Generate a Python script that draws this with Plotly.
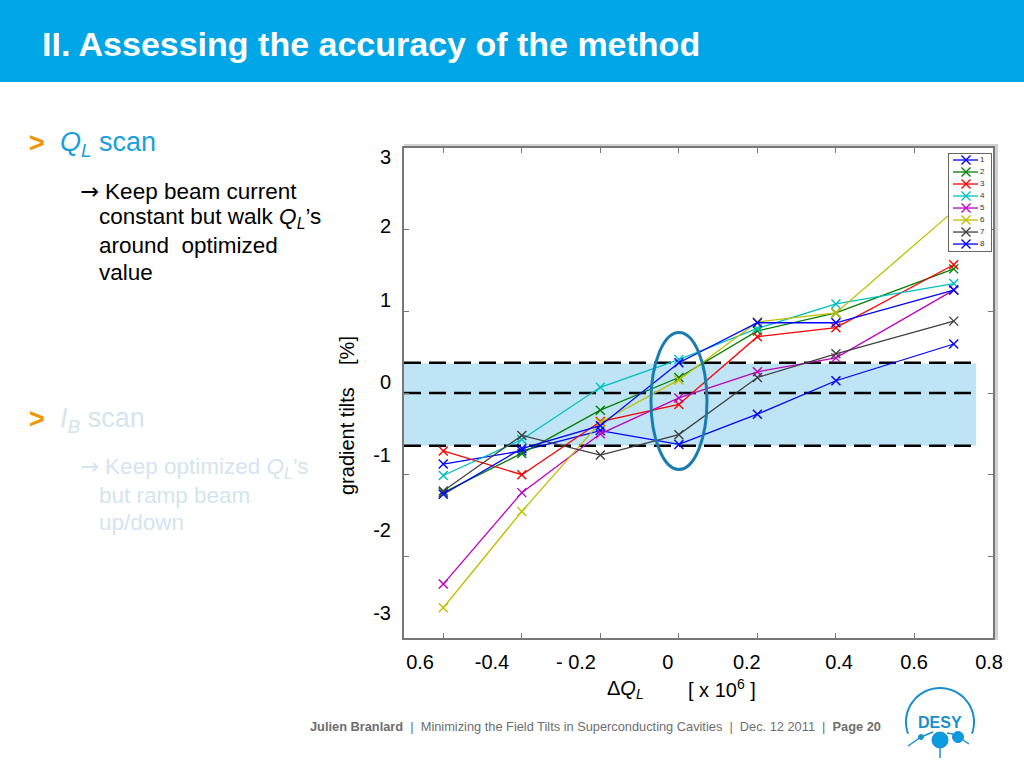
import numpy as np
import plotly.graph_objects as go

# ---------------- data ----------------
DQL = [-0.6, -0.4, -0.2, 0.0, 0.2, 0.4, 0.7]
CAV1 = [-0.87, -0.71, -0.46, -0.63, -0.26, 0.15, 0.60]
CAV2 = [-1.22, -0.74, -0.21, 0.19, 0.76, 0.98, 1.52]
CAV3 = [-0.71, -1.00, -0.35, -0.14, 0.69, 0.80, 1.57]
CAV4 = [-1.01, -0.57, 0.07, 0.41, 0.79, 1.09, 1.34]
CAV5 = [-2.34, -1.22, -0.50, -0.06, 0.26, 0.43, 1.26]
CAV6 = [-2.63, -1.45, -0.36, 0.16, 0.87, 0.98, 2.23]
CAV7 = [-1.20, -0.52, -0.76, -0.51, 0.19, 0.48, 0.88]
CAV8 = [-1.24, -0.68, -0.40, 0.37, 0.86, 0.86, 1.26]
SERIES = [CAV1, CAV2, CAV3, CAV4, CAV5, CAV6, CAV7, CAV8]
NAMES = ["1", "2", "3", "4", "5", "6", "7", "8"]
COLORS = ["#0000ff", "#008000", "#ff0000", "#00bfbf", "#bf00bf", "#bfbf00", "#404040", "#0000ff"]

X_RANGE = [-0.7, 0.8]
Y_RANGE = [-3, 3]
X_TICKS = [-0.6, -0.4, -0.2, 0.0, 0.2, 0.4, 0.6, 0.8]
Y_TICKS = [-3, -2, -1, 0, 1, 2, 3]
X_LABEL_POS = [-0.659, -0.476, -0.262, -0.028, 0.173, 0.408, 0.599, 0.790]
X_LABEL_TEXT = ["0.6", "-0.4", "- 0.2", "0", "0.2", "0.4", "0.6", "0.8"]
Y_LABEL_POS = [2.895, 2.05, 1.14, 0.13, -0.765, -1.68, -2.69]
Y_LABEL_TEXT = ["3", "2", "1", "0", "-1", "-2", "-3"]

BAND_Y = [-0.645, 0.36]
BAND_X = [-0.7, 0.757]
DASH_LEVELS = [0.37, 0.0, -0.645]
ELLIPSE_X = [-0.071, 0.0716]
ELLIPSE_Y = [-0.936, 0.74]

# ---------------- geometry helpers (page layout) ----------------
W, H = 1024, 768
L, R, T, B = 404, 993, 148, 638


def px(xp):
    return (xp - L) / (R - L)


def py(yp):
    return (B - yp) / (B - T)


FONT = "Arial, Liberation Sans, Helvetica, sans-serif"
ARROW = '<span style="font-family:DejaVu Sans">\u2192</span>'

fig = go.Figure()

for s, name, c in zip(SERIES, NAMES, COLORS):
    fig.add_trace(go.Scatter(
        x=DQL, y=s, mode="lines+markers", name=name,
        line=dict(color=c, width=1.3),
        marker=dict(symbol="x-thin", size=9, line=dict(color=c, width=1.4)),
        showlegend=False, xaxis="x", yaxis="y",
    ))

# invisible carriers so the label axes are drawn
fig.add_trace(go.Scatter(x=DQL, y=CAV1, mode="markers", marker=dict(opacity=0),
                         xaxis="x2", yaxis="y", hoverinfo="skip", showlegend=False))
fig.add_trace(go.Scatter(x=DQL, y=CAV1, mode="markers", marker=dict(opacity=0),
                         xaxis="x", yaxis="y2", hoverinfo="skip", showlegend=False))

# legend drawn as an inset subplot
for i, (name, c) in enumerate(zip(NAMES, COLORS), start=1):
    fig.add_trace(go.Scatter(
        x=[4, 29], y=[i, i], mode="lines", line=dict(color=c, width=1.3),
        showlegend=False, xaxis="x3", yaxis="y3", hoverinfo="skip"))
    fig.add_trace(go.Scatter(
        x=[17], y=[i], mode="markers",
        marker=dict(symbol="x-thin", size=9, line=dict(color=c, width=1.4)),
        showlegend=False, xaxis="x3", yaxis="y3", hoverinfo="skip"))
    fig.add_trace(go.Scatter(
        x=[31], y=[i], mode="text", text=[name], textposition="middle right",
        textfont=dict(size=8, color="#333333", family=FONT),
        showlegend=False, xaxis="x3", yaxis="y3", hoverinfo="skip"))

shapes = []
# header bar
shapes.append(dict(type="rect", xref="paper", yref="paper",
                   x0=px(0), x1=px(W), y0=py(0), y1=py(82),
                   fillcolor="#00a6e6", line=dict(width=0), layer="below"))
# frame shadow (top and right)
shapes.append(dict(type="rect", xref="paper", yref="paper",
                   x0=px(404), x1=px(998), y0=py(148), y1=py(144),
                   fillcolor="#d2d2d2", line=dict(width=0), layer="below"))
shapes.append(dict(type="rect", xref="paper", yref="paper",
                   x0=px(994), x1=px(998), y0=py(640), y1=py(144),
                   fillcolor="#d2d2d2", line=dict(width=0), layer="below"))
# tolerance band
shapes.append(dict(type="rect", xref="x", yref="y",
                   x0=BAND_X[0], x1=BAND_X[1], y0=BAND_Y[0], y1=BAND_Y[1],
                   fillcolor="#bfe4f6", line=dict(width=0), layer="below"))
for lev in DASH_LEVELS:
    shapes.append(dict(type="line", xref="x", yref="y",
                       x0=BAND_X[0], x1=BAND_X[1], y0=lev, y1=lev,
                       line=dict(color="#000000", width=2.5, dash="17px,8px"),
                       layer="below"))
# ellipse
shapes.append(dict(type="circle", xref="x", yref="y",
                   x0=ELLIPSE_X[0], x1=ELLIPSE_X[1], y0=ELLIPSE_Y[0], y1=ELLIPSE_Y[1],
                   line=dict(color="#1a7db0", width=3), layer="above"))

# DESY logo (decorative)
cx, cy, rr = 940, 722, 34
ang = np.linspace(np.deg2rad(200), np.deg2rad(-20), 60)
pts = [(px(cx + rr * np.cos(a)), py(cy - rr * np.sin(a))) for a in ang]
path = "M " + " L ".join(f"{a:.5f},{b:.5f}" for a, b in pts)
logo_c = "#1b8fce"
shapes.append(dict(type="path", xref="paper", yref="paper", path=path,
                   line=dict(color=logo_c, width=2)))
for (bx, by, br) in [(940, 740, 8), (958, 737, 5.5), (921, 737, 2.5)]:
    shapes.append(dict(type="circle", xref="paper", yref="paper",
                       x0=px(bx - br), x1=px(bx + br), y0=py(by + br), y1=py(by - br),
                       fillcolor="#0a9be0", line=dict(color=logo_c, width=1)))
for (x0, y0, x1, y1) in [(908, 746, 921, 737), (921, 737, 933, 732), (947, 733, 953, 734),
                         (940, 748, 940, 758), (963, 740, 969, 744)]:
    shapes.append(dict(type="line", xref="paper", yref="paper",
                       x0=px(x0), x1=px(x1), y0=py(y0), y1=py(y1),
                       line=dict(color=logo_c, width=1.5)))

ann = []


def text(xp, yp, s, size, color="#000000", xanchor="left", angle=0, yanchor="middle"):
    ann.append(dict(x=px(xp), y=py(yp), xref="paper", yref="paper", text=s,
                    showarrow=False, xanchor=xanchor, yanchor=yanchor, textangle=angle,
                    font=dict(size=size, color=color, family=FONT)))


text(40, 44, "<b>II. Assessing the accuracy of the method</b>", 34, "#ffffff")
orange = "#f29400"
blue_t = "#1aa0dc"
faded = "#d5e4f1"
text(27, 143, "<b>&gt;</b>", 27, orange)
text(58, 144, "<i>Q</i><sub><i>L</i></sub> scan", 27, blue_t)
text(78, 191, ARROW + " Keep beam current", 22.5)
text(97, 218, "constant but walk <i>Q</i><sub><i>L</i></sub>\u2019s", 22.5)
text(97, 245, "around \u00a0optimized", 22.5)
text(97, 272, "value", 22.5)
text(27, 419, "<b>&gt;</b>", 27, orange)
text(58, 420, "<i>I</i><sub><i>B</i></sub> scan", 27, faded)
text(78, 467, ARROW + " Keep optimized <i>Q</i><sub><i>L</i></sub>\u2019s", 22.5, faded)
text(97, 495, "but ramp beam", 22.5, faded)
text(97, 522, "up/down", 22.5, faded)

text(347, 416, "gradient tilts\u00a0\u00a0\u00a0\u00a0[%]", 20, angle=-90, xanchor="center")
text(625, 689, "\u0394<i>Q</i><sub><i>L</i></sub>", 20, xanchor="center")
text(722, 688, "[ x 10<sup>6</sup> ]", 20, xanchor="center")

text(595, 726, "<b>Julien Branlard</b> \u00a0|\u00a0 Minimizing the Field Tilts in Superconducting Cavities"
     " \u00a0|\u00a0 Dec. 12 2011 \u00a0|\u00a0 <b>Page 20</b>", 12.8, "#6e6e6e", xanchor="center")
text(940, 722, "<b>DESY</b>", 16, logo_c, xanchor="center")

axis_common = dict(showgrid=False, zeroline=False)
fig.update_layout(
    width=W, height=H,
    margin=dict(l=L, r=W - R, t=T, b=H - B, pad=0),
    paper_bgcolor="#ffffff", plot_bgcolor="#ffffff",
    font=dict(family=FONT, size=20, color="#000000"),
    xaxis=dict(range=X_RANGE, tickvals=X_TICKS, showticklabels=False,
               ticks="inside", ticklen=5, tickcolor="#777777", tickwidth=1,
               showline=True, linecolor="#777777", linewidth=1.5, mirror="ticks",
               **axis_common),
    yaxis=dict(range=Y_RANGE, tickvals=Y_TICKS, showticklabels=False,
               ticks="inside", ticklen=5, tickcolor="#777777", tickwidth=1,
               showline=True, linecolor="#777777", linewidth=1.5, mirror="ticks",
               **axis_common),
    xaxis2=dict(overlaying="x", anchor="y", side="bottom", range=X_RANGE,
                tickvals=X_LABEL_POS, ticktext=X_LABEL_TEXT, ticks="outside",
                ticklen=6, tickcolor="rgba(0,0,0,0)", showline=False,
                tickfont=dict(size=20, color="#000000", family=FONT), **axis_common),
    yaxis2=dict(overlaying="y", anchor="x", side="left", range=Y_RANGE,
                tickvals=Y_LABEL_POS, ticktext=Y_LABEL_TEXT, ticks="outside",
                ticklen=8, tickcolor="rgba(0,0,0,0)", showline=False,
                tickfont=dict(size=20, color="#000000", family=FONT), **axis_common),
    xaxis3=dict(domain=[px(949), px(991)], anchor="y3", range=[0, 42],
                showticklabels=False, ticks="", showline=True, mirror=True,
                linecolor="#666666", linewidth=1, **axis_common),
    yaxis3=dict(domain=[py(251), py(154)], anchor="x3", range=[8.58, 0.5],
                showticklabels=False, ticks="", showline=True, mirror=True,
                linecolor="#666666", linewidth=1, **axis_common),
    shapes=shapes,
    annotations=ann,
    showlegend=False,
)

fig.write_html("out.html", config={"displayModeBar": False},
               post_script="document.body.style.margin='0px';document.body.style.overflow='hidden';")
